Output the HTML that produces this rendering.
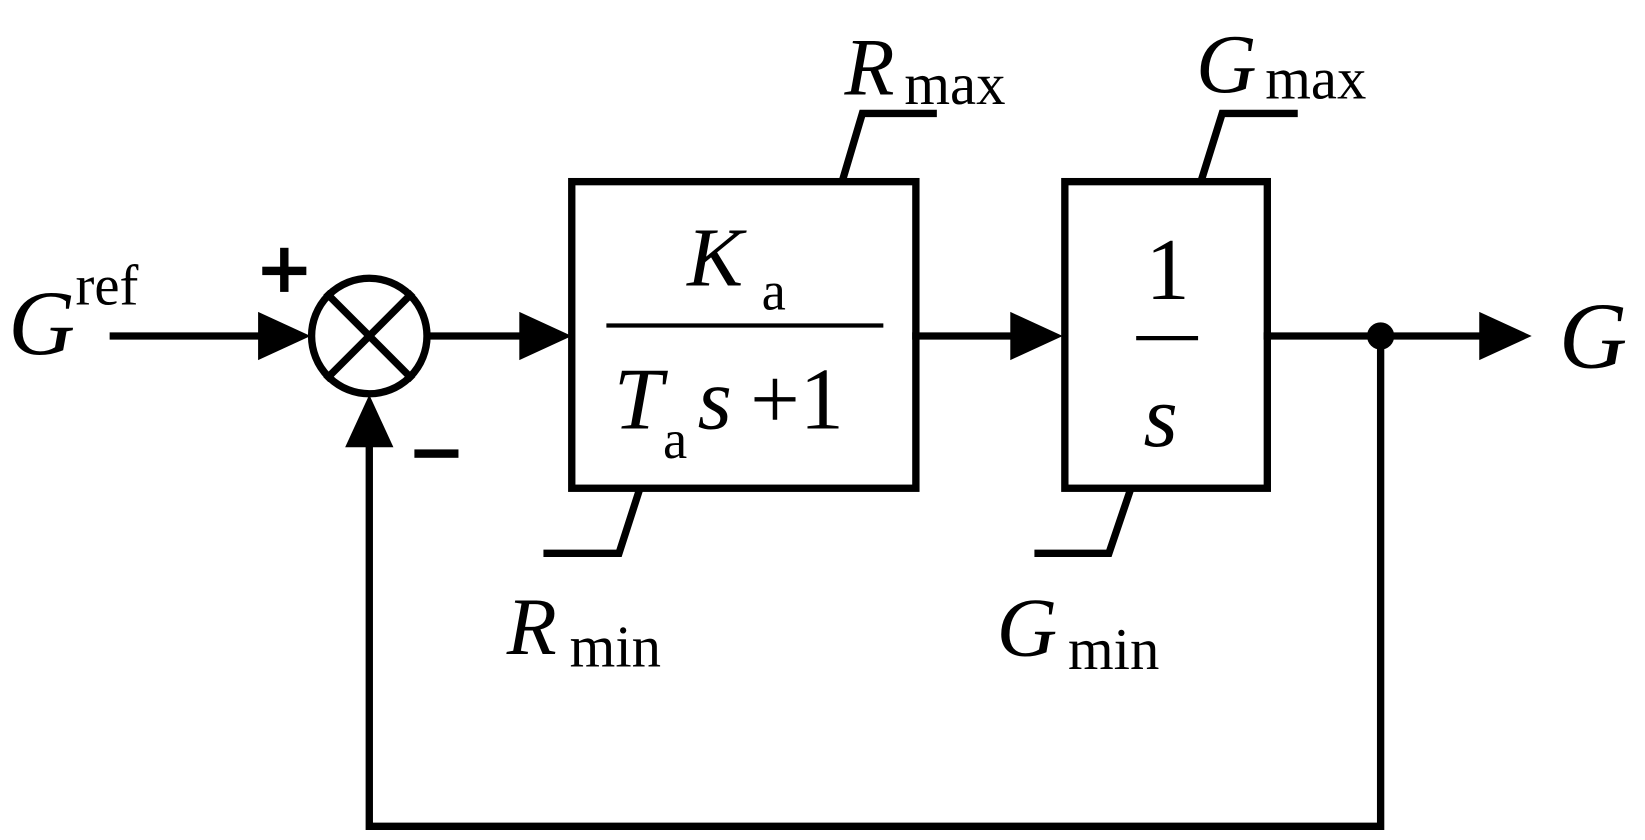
<!DOCTYPE html>
<html><head><style>html,body{margin:0;padding:0;background:#fff}svg{display:block}text{font-family:"Liberation Serif",serif;fill:#000}</style></head><body>
<svg width="1645" height="840" viewBox="0 0 1568 800" preserveAspectRatio="none" xmlns="http://www.w3.org/2000/svg">
<g stroke="#000" stroke-width="7" fill="none" stroke-linecap="square">
<line x1="108" y1="320" x2="255" y2="320"/>
<circle cx="352" cy="320" r="55"/>
<line x1="313" y1="281" x2="391" y2="359"/><line x1="391" y1="281" x2="313" y2="359"/>
<line x1="410" y1="320" x2="505" y2="320"/>
<rect x="545" y="173" width="328" height="292"/>
<line x1="580" y1="310" x2="840" y2="310" stroke-width="4"/>
<polyline points="803,172 822,108 893,108" stroke-linecap="butt"/>
<polyline points="610,465 590,527 518,527" stroke-linecap="butt"/>
<line x1="873" y1="320" x2="970" y2="320"/>
<rect x="1015" y="173" width="193" height="292"/>
<line x1="1085" y1="322" x2="1140" y2="322" stroke-width="4"/>
<polyline points="1145,172 1165,108 1237,108" stroke-linecap="butt"/>
<polyline points="1078,465 1057,527 986,527" stroke-linecap="butt"/>
<line x1="1208" y1="320" x2="1415" y2="320"/>
<polyline points="1316,320 1316,787 352,787 352,420" stroke-linecap="butt"/>
</g>
<g fill="#000">
<polygon points="296,320 246,297 246,343"/>
<polygon points="545,320 495,297 495,343"/>
<polygon points="1013,320 963,297 963,343"/>
<polygon points="1460,320 1410,297 1410,343"/>
<polygon points="352,376 329,426 375,426"/>
<circle cx="1316" cy="320" r="13"/>
<rect x="250" y="254" width="42" height="8"/><rect x="267" y="236" width="8" height="42"/>
<rect x="395" y="428" width="42" height="8"/>
</g>
<text x="8" y="337" font-size="88" font-style="italic">G</text>
<text x="72" y="290" font-size="54">ref</text>
<text x="805" y="90" font-size="78" font-style="italic">R</text><text x="862" y="99" font-size="56">max</text>
<text x="1140" y="88" font-size="80" font-style="italic">G</text><text x="1206" y="94" font-size="56">max</text>
<text x="483" y="623" font-size="78" font-style="italic">R</text><text x="543" y="635" font-size="56">min</text>
<text x="950" y="625" font-size="80" font-style="italic">G</text><text x="1018" y="637" font-size="56">min</text>
<text x="655" y="272" font-size="80" font-style="italic">K</text><text x="726" y="295" font-size="52">a</text>
<text x="585" y="408" font-size="84" font-style="italic">T</text><text x="632" y="436" font-size="52">a</text>
<text x="665" y="408" font-size="84" font-style="italic">s</text><text x="715" y="408" font-size="84">+1</text>
<text x="1092" y="285" font-size="84">1</text>
<text x="1090" y="425" font-size="84" font-style="italic">s</text>
<text x="1486" y="350" font-size="90" font-style="italic">G</text>
</svg>
</body></html>
